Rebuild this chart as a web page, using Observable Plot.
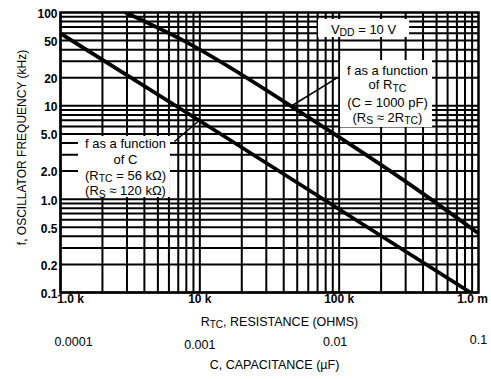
<!DOCTYPE html>
<html><head><meta charset="utf-8">
<script src="https://cdn.jsdelivr.net/npm/d3@7"></script>
<script src="https://cdn.jsdelivr.net/npm/@observablehq/plot@0.6"></script>
<style>
body{margin:0;background:#fff;}
svg{font-family:"Liberation Sans",Arial,Helvetica,sans-serif;}
</style>
</head><body><div id="chart"></div>
<script>
// ---- data ----
// f as a function of RTC (C = 1000 pF)
const rtcOhms    = [2928, 7634, 62200, 290000, 1000000];
const rtcFreqKHz = [100, 50, 7.3, 1.6, 0.43];
// f as a function of C (RTC = 56 kOhm)
const capMicroF  = [0.0001, 0.00119, 0.0198, 0.0876];
const capFreqKHz = [59.6, 5.86, 0.408, 0.1];
// axis tick values / labels
const rTicks = [1e3, 1e4, 1e5, 1e6];
const rTickLabels = ["1.0 k", "10 k", "100 k", "1.0 m"];
const cTicks = [0.0001, 0.001, 0.01, 0.1];
const cTickLabels = ["0.0001", "0.001", "0.01", "0.1"];
const fTicks = [100, 50, 20, 10, 5, 2, 1, 0.5, 0.2, 0.1];
const fTickLabels = ["100", "50", "20", "10", "5.0", "2.0", "1.0", "0.5", "0.2", "0.1"];

// C (µF) shares the horizontal axis: 0.0001 µF sits at 1.0 k
const cToAxis = 1e7;

// log paper grid: 1..9 in every decade
const xGrid = [], yGrid = [];
for (let k = 3; k < 6; k++) for (let m = 1; m < 10; m++) xGrid.push(m * 10 ** k);
for (let k = -1; k < 2; k++) for (let m = 1; m < 10; m++) yGrid.push(+(m * 10 ** k).toPrecision(3));

const rtcData = rtcOhms.map((r, i) => ({x: r, f: rtcFreqKHz[i]}));
const capData = capMicroF.map((c, i) => ({x: c * cToAxis, f: capFreqKHz[i]}));

// ---- annotations (in axis coordinates) ----
const boxes = [
  {x1: 71100, x2: 320000, y1: 54, y2: 84.1},
  {x1: 102200, x2: 468000, y1: 5.86, y2: 30.6},
  {x1: 1346, x2: 6152, y1: 1.04, y2: 4.69}
];
const boxText = [
  {x: 149500, y: 65.8, t: "V_{DD} = 10 V"},
  {x: 222000, y: 23.6, t: "f as a function"},
  {x: 222000, y: 16.7, t: "of R_{TC}"},
  {x: 222000, y: 10.9, t: "(C = 1000 pF)"},
  {x: 222000, y: 7.5, t: "(R_{S} ≈ 2R_{TC})"},
  {x: 2928, y: 3.95, t: "f as a function"},
  {x: 2928, y: 2.66, t: "of C"},
  {x: 2928, y: 1.79, t: "(R_{TC} = 56 kΩ)"},
  {x: 2928, y: 1.22, t: "(R_{S} ≈ 120 kΩ)"}
];
const leaders = [
  {x1: 97300, y1: 20.1, x2: 44800, y2: 9.84},
  {x1: 6577, y1: 4.15, x2: 9946, y2: 7.0}
];

const fs = 12.5;
const plot = Plot.plot({
  width: 491, height: 379,
  marginLeft: 60, marginRight: 13, marginTop: 12, marginBottom: 87,
  x: {type: "log", domain: [1e3, 1e6], axis: null},
  y: {type: "log", domain: [0.1, 100], axis: null},
  style: {fontFamily: '"Liberation Sans",Arial,Helvetica,sans-serif', fontSize: fs + "px", color: "black", background: "white", overflow: "visible"},
  marks: [
    Plot.ruleX(xGrid, {x: d => d, stroke: "black", strokeWidth: 2}),
    Plot.ruleY(yGrid, {y: d => d, stroke: "black", strokeWidth: 2}),
    Plot.line(rtcData, {x: "x", y: "f", stroke: "black", strokeWidth: 3.8, curve: "monotone-x", clip: true}),
    Plot.line(capData, {x: "x", y: "f", stroke: "black", strokeWidth: 3.8, clip: true}),
    Plot.rect(boxes, {x1: "x1", x2: "x2", y1: "y1", y2: "y2", fill: "white"}),
    Plot.link(leaders, {x1: "x1", y1: "y1", x2: "x2", y2: "y2", stroke: "black", strokeWidth: 1.5}),
    Plot.text(boxText, {x: "x", y: "y", text: "t", fontSize: 13, fill: "black"}),
    Plot.frame({stroke: "black", strokeWidth: 2.5}),
    // y tick labels
    Plot.text(fTicks, {y: d => d, text: (d, i) => fTickLabels[i], frameAnchor: "left", textAnchor: "end", dx: -3, dy: 1.5, fill: "black", fontWeight: "bold", fontSize: 12}),
    // x (resistance) tick labels
    Plot.text(rTicks, {x: d => d, text: (d, i) => rTickLabels[i], frameAnchor: "bottom", dy: 10,
      dx: 0, fill: "black", fontWeight: "bold", fontSize: 12, filter: (d, i) => i > 0 && i < 3}),
    Plot.text([rTicks[0]], {x: d => d, text: () => rTickLabels[0], frameAnchor: "bottom", dy: 10, dx: 10, fill: "black", fontWeight: "bold", fontSize: 12}),
    Plot.text([rTicks[3]], {x: d => d, text: () => rTickLabels[3], frameAnchor: "bottom", dy: 10, dx: -6, fill: "black", fontWeight: "bold", fontSize: 12}),
    Plot.text(["R_{TC}, RESISTANCE (OHMS)"], {text: d => d, frameAnchor: "bottom", textAnchor: "middle", dy: 33, dx: 10, fill: "black"}),
    // capacitance labels
    Plot.text([cTicks[0]], {x: d => d * cToAxis, text: () => cTickLabels[0], frameAnchor: "bottom", dy: 53, dx: 13, fill: "black"}),
    Plot.text([cTicks[1]], {x: d => d * cToAxis, text: () => cTickLabels[1], frameAnchor: "bottom", dy: 56, dx: 0, fill: "black"}),
    Plot.text([cTicks[2]], {x: d => d * cToAxis, text: () => cTickLabels[2], frameAnchor: "bottom", dy: 53, dx: -4, fill: "black"}),
    Plot.text([cTicks[3]], {x: d => d * cToAxis, text: () => cTickLabels[3], frameAnchor: "bottom", dy: 51, dx: 0, fill: "black"}),
    Plot.text(["C, CAPACITANCE (µF)"], {text: d => d, frameAnchor: "bottom", textAnchor: "middle", dy: 76, dx: 5, fill: "black"}),
    // y title
    Plot.text(["f, OSCILLATOR FREQUENCY (kHz)"], {text: d => d, frameAnchor: "left", textAnchor: "middle", rotate: -90, dx: -38, dy: -5, fill: "black", fontSize: 12})
  ]
});

// subscripts: turn "_{..}" into lowered tspans
d3.select(plot).selectAll("text").each(function() {
  const t = this.textContent;
  if (!t.includes("_{")) return;
  const sel = d3.select(this);
  sel.text(null);
  const re = /_\{([^}]*)\}/g;
  let last = 0, m, shifted = false;
  while ((m = re.exec(t))) {
    if (m.index > last) {
      const s = sel.append("tspan").text(t.slice(last, m.index));
      if (shifted) s.attr("dy", -2.5);
    }
    sel.append("tspan").attr("dy", 2.5).attr("font-size", "0.8em").text(m[1]);
    shifted = true;
    last = re.lastIndex;
  }
  if (last < t.length) {
    const s = sel.append("tspan").text(t.slice(last));
    if (shifted) s.attr("dy", -2.5);
  }
});

document.getElementById("chart").appendChild(plot);
</script>
</body></html>
